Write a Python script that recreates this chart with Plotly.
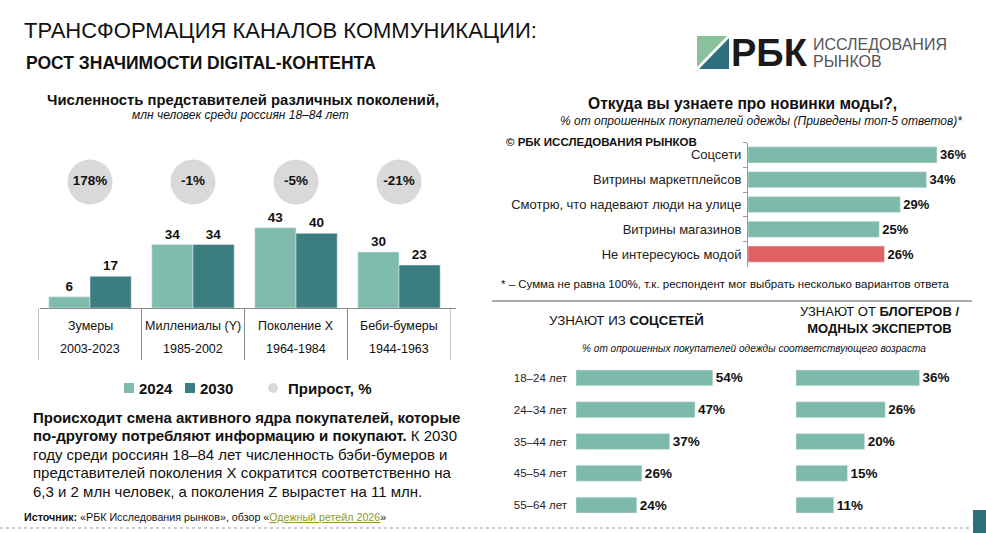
import plotly.graph_objects as go

W, H = 986, 533
FONT = "Liberation Sans, Arial, Helvetica, sans-serif"

# ---- data ----
generations = ["Зумеры", "Миллениалы (Y)", "Поколение X", "Беби-бумеры"]
birth_years = ["2003-2023", "1985-2002", "1964-1984", "1944-1963"]
people_2024 = [6, 34, 43, 30]
people_2030 = [17, 34, 40, 23]
growth = ["178%", "-1%", "-5%", "-21%"]

sources = ["Соцсети", "Витрины маркетплейсов", "Смотрю, что надевают люди на улице",
           "Витрины магазинов", "Не интересуюсь модой"]
sources_pct = [36, 34, 29, 25, 26]

ages = ["18–24 лет", "24–34 лет", "35–44 лет", "45–54 лет", "55–64 лет"]
social_pct = [54, 47, 37, 26, 24]
bloggers_pct = [36, 26, 20, 15, 11]

# ---- colours ----
LIGHT = "#80BCAE"
DARK = "#3C7E80"
BAR = "#7DBAAA"
RED = "#DE6262"
GREY = "#D9D9D9"


def px(x):
    return x / W


def py(y):
    return 1 - y / H


fig = go.Figure()

# left chart: generations 2024 / 2030
fig.add_trace(go.Bar(x=generations, y=people_2024, name="2024", marker_color=LIGHT,
                     text=people_2024, textposition="outside", cliponaxis=False,
                     texttemplate="<b>%{y}</b>", constraintext="none",
                     textfont=dict(size=13.5, color="#111"), xaxis="x", yaxis="y"))
fig.add_trace(go.Bar(x=generations, y=people_2030, name="2030", marker_color=DARK,
                     text=people_2030, textposition="outside", cliponaxis=False,
                     texttemplate="<b>%{y}</b>", constraintext="none",
                     textfont=dict(size=13.5, color="#111"), xaxis="x", yaxis="y"))
# growth circles
fig.add_trace(go.Scatter(x=generations, y=[0.5] * 4, mode="markers+text", text=growth,
                         texttemplate="<b>%{text}</b>", textposition="middle center",
                         marker=dict(size=45, color=GREY), cliponaxis=False,
                         textfont=dict(size=13.5, color="#111"), xaxis="x", yaxis="y6"))

# right top: sources of fashion news
fig.add_trace(go.Bar(y=sources, x=sources_pct, orientation="h",
                     marker_color=[BAR, BAR, BAR, BAR, RED], width=0.65,
                     texttemplate="<b>%{x}%</b>", textposition="outside", cliponaxis=False,
                     constraintext="none", textfont=dict(size=13, color="#111"),
                     xaxis="x3", yaxis="y3"))

# bottom right: by age
fig.add_trace(go.Bar(y=ages, x=social_pct, orientation="h", marker_color=BAR, width=0.5,
                     texttemplate="<b>%{x}%</b>", textposition="outside", cliponaxis=False,
                     constraintext="none", textfont=dict(size=13.5, color="#111"),
                     xaxis="x4", yaxis="y4"))
fig.add_trace(go.Bar(y=ages, x=bloggers_pct, orientation="h", marker_color=BAR, width=0.5,
                     texttemplate="<b>%{x}%</b>", textposition="outside", cliponaxis=False,
                     constraintext="none", textfont=dict(size=13.5, color="#111"),
                     xaxis="x5", yaxis="y5"))

hidden = dict(showgrid=False, zeroline=False, showticklabels=False, showline=False,
              ticks="", automargin=False)

fig.update_layout(
    width=W, height=H, margin=dict(l=0, r=0, t=0, b=0, autoexpand=False),
    paper_bgcolor="white", plot_bgcolor="rgba(0,0,0,0)",
    font=dict(family=FONT, color="#111"),
    showlegend=False, barmode="group", bargap=0.2, bargroupgap=0,
    xaxis=dict(hidden, domain=[px(38.5), px(450.5)], range=[-0.5, 3.5], anchor="y"),
    yaxis=dict(hidden, domain=[py(308), py(196)], range=[0, 60], anchor="x"),
    yaxis6=dict(hidden, domain=[py(204), py(160)], range=[0, 1], anchor="x"),
    xaxis3=dict(hidden, domain=[px(748), px(979)], range=[0, 44], anchor="y3"),
    yaxis3=dict(domain=[py(266.5), py(142.5)], range=[4.5, -0.5], showgrid=False,
                zeroline=False, showline=True, linecolor="#9a9a9a", linewidth=1,
                ticks="outside", ticklen=4, tickcolor="#9a9a9a", tickson="boundaries",
                ticklabelstandoff=3,
                tickfont=dict(size=13, color="#222"), automargin=False, anchor="x3"),
    xaxis4=dict(hidden, domain=[px(576), px(728)], range=[0, 60], anchor="y4"),
    yaxis4=dict(domain=[py(521), py(362)], range=[4.5, -0.5], showgrid=False,
                zeroline=False, showline=False, ticks="", automargin=False, anchor="x4",
                ticklabelstandoff=8, tickfont=dict(size=11.5, color="#222")),
    xaxis5=dict(hidden, domain=[px(796), px(947)], range=[0, 44], anchor="y5"),
    yaxis5=dict(hidden, domain=[py(521), py(362)], range=[4.5, -0.5], anchor="x5"),
)


def txt(x, y, text, size, anchor="left", color="#111", italic=False):
    fig.add_annotation(x=px(x), y=py(y), xref="paper", yref="paper", text=text,
                       showarrow=False, xanchor=anchor, yanchor="middle", align=anchor,
                       font=dict(size=size, color=color, family=FONT,
                                 style="italic" if italic else "normal"))


# headings
txt(22, 30, "ТРАНСФОРМАЦИЯ КАНАЛОВ КОММУНИКАЦИИ:", 22)
txt(24, 63, "<b>РОСТ ЗНАЧИМОСТИ DIGITAL-КОНТЕНТА</b>", 17.5)

# logo
fig.add_shape(type="path", xref="paper", yref="paper", line_width=0, fillcolor="#8BC19A",
              path=f"M {px(697)} {py(36)} L {px(727)} {py(36)} L {px(697)} {py(67)} Z")
fig.add_shape(type="path", xref="paper", yref="paper", line_width=0, fillcolor="#2E6E7F",
              path=f"M {px(729)} {py(38)} L {px(729)} {py(69)} L {px(699)} {py(69)} Z")
txt(729, 53, "<b>РБК</b>", 38, color="#1a1a1a")
txt(811, 44, "ИССЛЕДОВАНИЯ", 16, color="#555")
txt(811, 62, "РЫНКОВ", 16, color="#555")

# left chart titles
txt(243, 100, "<b>Численность представителей различных поколений,</b>", 14.8, anchor="center")
txt(240, 115, "млн человек среди россиян 18–84 лет", 12, anchor="center", italic=True)

# table under left bars
for i in range(5):
    fig.add_shape(type="line", xref="x", yref="paper", x0=i - 0.5, x1=i - 0.5,
                  y0=py(308), y1=py(360), line=dict(color="#8a8a8a", width=1))
fig.add_shape(type="line", xref="paper", yref="paper", x0=px(40), x1=px(456),
              y0=py(308.5), y1=py(308.5), line=dict(color="#8a8a8a", width=1))
for g, yrs in zip(generations, birth_years):
    fig.add_annotation(x=g, xref="x", y=py(326), yref="paper", text=g, showarrow=False,
                       font=dict(size=12.5, color="#111"))
    fig.add_annotation(x=g, xref="x", y=py(349), yref="paper", text=yrs, showarrow=False,
                       font=dict(size=12.5, color="#111"))

# legend
fig.add_shape(type="rect", xref="paper", yref="paper", x0=px(124), x1=px(134),
              y0=py(393), y1=py(383), line_width=0, fillcolor=LIGHT)
txt(137, 388, "<b>2024</b>", 15)
fig.add_shape(type="rect", xref="paper", yref="paper", x0=px(185), x1=px(195),
              y0=py(393), y1=py(383), line_width=0, fillcolor=DARK)
txt(198, 388, "<b>2030</b>", 15)
fig.add_shape(type="circle", xref="paper", yref="paper", x0=px(268), x1=px(278),
              y0=py(393), y1=py(383), line_width=0, fillcolor=GREY)
txt(286, 388, "<b>Прирост, %</b>", 15)

# paragraph, one annotation per line to keep the tight line spacing
para = ["<b>Происходит смена активного ядра покупателей, которые</b>",
        "<b>по-другому потребляют информацию и покупают.</b> К 2030",
        "году среди россиян 18–84 лет численность бэби-бумеров и",
        "представителей поколения X сократится соответственно на",
        "6,3 и 2 млн человек, а поколения Z вырастет на 11 млн."]
for i, line in enumerate(para):
    txt(31, 417 + i * 18.6, line, 15)

# source
txt(22, 517, "<b>Источник:</b> «РБК Исследования рынков», обзор "
    "«<span style='color:#8C9A2E'><u>Одежный ретейл 2026</u></span>»", 10.7)

# right top titles
txt(742, 103, "<b>Откуда вы узнаете про новинки моды?,</b>", 15.6, anchor="center")
txt(761, 121, "% от опрошенных покупателей одежды (Приведены топ-5 ответов)*", 12,
    anchor="center", italic=True)
txt(504, 142, "<b>© РБК ИССЛЕДОВАНИЯ РЫНКОВ</b>", 11.5)
txt(499, 284, "* – Сумма не равна 100%, т.к. респондент мог выбрать несколько вариантов ответа", 11.5)

# separator
fig.add_shape(type="line", xref="paper", yref="paper", x0=px(492), x1=px(972),
              y0=py(301), y1=py(301), line=dict(color="#555", width=1))

# bottom right titles
txt(626, 320, "УЗНАЮТ ИЗ <b>СОЦСЕТЕЙ</b>", 13.3, anchor="center")
txt(879, 320, "УЗНАЮТ ОТ <b>БЛОГЕРОВ /</b><br><b>МОДНЫХ ЭКСПЕРТОВ</b>", 13, anchor="center")
txt(754, 348, "% от опрошенных покупателей одежды соответствующего возраста", 10.1,
    anchor="center", italic=True)

# footer
fig.add_shape(type="line", xref="paper", yref="paper", x0=0, x1=px(970),
              y0=py(528), y1=py(528), line=dict(color="#999", width=1, dash="dot"))
fig.add_shape(type="rect", xref="paper", yref="paper", x0=px(973), x1=1,
              y0=py(533), y1=py(510), line_width=0, fillcolor="#2F6F7A")

fig.write_html("out.html", config={"displayModeBar": False},
               post_script="document.body.style.margin='0';document.body.style.overflow='hidden';")
